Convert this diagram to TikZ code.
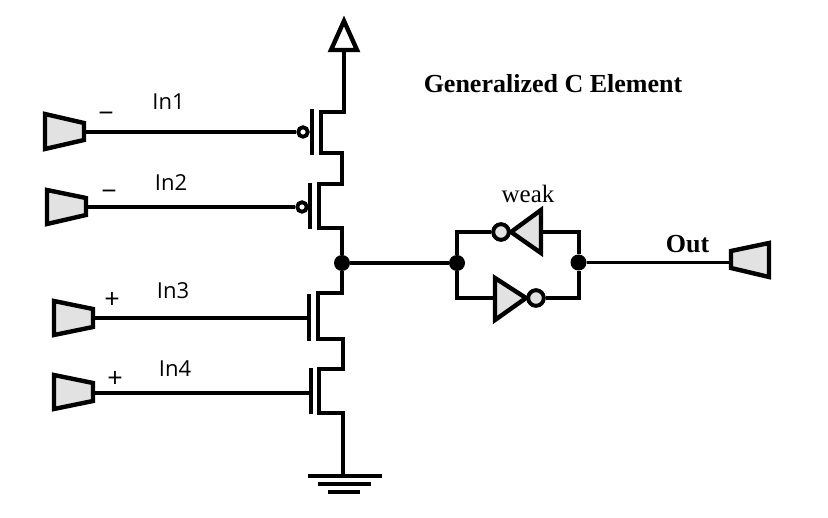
\documentclass[tikz,border=0pt]{standalone}
\usepackage{fontspec}
\setmainfont{Liberation Serif}
\newfontfamily\labelfont{Open Sans}
\usepackage{xcolor}
\definecolor{portfill}{HTML}{E2E2E2}
\tikzset{
  wire/.style={line width=4pt,line cap=butt,line join=miter},
  thinwire/.style={line width=3.2pt},
  port/.style={line width=4.4pt,line join=miter,fill=portfill},
  gatebar/.style={line width=4.6pt},
  junction/.style={circle,fill=black,inner sep=0pt,minimum size=16pt},
  gatebub/.style={circle,draw,line width=3.8pt,fill=white,inner sep=0pt,minimum size=9.5pt},
  invbub/.style={circle,draw,line width=3.8pt,fill=portfill,inner sep=0pt,minimum size=15.5pt},
  inlabel/.style={font=\labelfont\fontsize{22}{22}\selectfont},
  signlabel/.style={font=\labelfont\fontsize{27}{27}\selectfont},
  serifbold/.style={font=\bfseries\fontsize{26}{26}\selectfont},
}
\begin{document}
\begin{tikzpicture}[x=1pt,y=-1pt]
  \useasboundingbox (0,0) rectangle (828,518);

  % input ports
  \draw[port] (45,114) -- (84,123) -- (84,140) -- (45,149) -- cycle;
  \draw[port] (47,190) -- (86,198) -- (86,215) -- (47,224) -- cycle;
  \draw[port] (54,301) -- (93,309) -- (93,327) -- (54,335) -- cycle;
  \draw[port] (54,375) -- (93,383) -- (93,401) -- (54,409) -- cycle;
  \coordinate (in1) at (85,132);
  \coordinate (in2) at (87,207);
  \coordinate (in3) at (94,318);
  \coordinate (in4) at (94,393);

  % gates
  \node[gatebub] (bub1) at (303,132) {};
  \node[gatebub] (bub2) at (302,207) {};
  \coordinate (gate3) at (309,318);
  \coordinate (gate4) at (311,393);
  \draw[wire] (in1) -- (bub1);
  \draw[wire] (in2) -- (bub2);
  \draw[wire] (in3) -- (gate3);
  \draw[wire] (in4) -- (gate4);
  \draw[gatebar] (312,109) -- (312,155);
  \draw[gatebar] (310,183) -- (310,229);
  \draw[gatebar] (309,294) -- (309,341);
  \draw[gatebar] (311,368) -- (311,414);

  % supply
  \coordinate (vdd) at (344,50);
  \draw[port,fill=white] (344,21) -- (357,50) -- (331,50) -- cycle;

  % stack
  \node[junction] (mid) at (342,263) {};
  \coordinate (gnd) at (343,476);
  \draw[wire] (vdd) -- (344,111.8) -- (321,111.8) -- (321,153) -- (342,153) -- (342,184)
    -- (319,184) -- (319,228) -- (342,228) -- (mid);
  \draw[wire] (mid) -- (342,293) -- (318,293) -- (318,339) -- (342.5,339) -- (342.5,369)
    -- (319,369) -- (319,413) -- (343,413) -- (gnd);

  % ground
  \draw[line width=4.4pt] (308,476) -- (382,476);
  \draw[line width=4.4pt] (318,484) -- (371,484);
  \draw[line width=4.4pt] (328,492) -- (360,492);

  % keeper loop
  \node[junction] (left) at (457,263) {};
  \node[junction] (right) at (578.5,262.5) {};
  \coordinate (out) at (731,262.5);
  \node[invbub] (weakbub) at (501,232) {};
  \node[invbub] (fwdbub) at (536,298) {};
  \coordinate (weakin) at (541,232);
  \coordinate (fwdin) at (495,298);
  \draw[thinwire] (mid) -- (left);
  \draw[thinwire] (right) -- (out);
  \draw[wire] (left) -- (457,232) -- (weakbub);
  \draw[wire] (left) -- (457,298) -- (fwdin);
  \draw[wire] (right) -- (578.5,232) -- (weakin);
  \draw[wire] (right) -- (578.5,298) -- (fwdbub);
  \draw[port] (541,210) -- (541,253) -- (511,232) -- cycle;
  \draw[port] (495,278) -- (495,320) -- (526,298) -- cycle;
  \node[invbub] at (weakbub) {};
  \node[invbub] at (fwdbub) {};

  % output port
  \draw[port] (731,251) -- (769,243) -- (769,277) -- (731,268) -- cycle;

  % labels
  \node[inlabel] (lab1) at (168.5,102) {In1};
  \node[inlabel] (lab2) at (171,183) {In2};
  \node[inlabel] (lab3) at (173,291) {In3};
  \node[inlabel] (lab4) at (175,369) {In4};
  \node[signlabel] (sign1) at (106,117) {−};
  \node[signlabel] (sign2) at (109,195) {−};
  \node[signlabel] (sign3) at (112,300) {+};
  \node[signlabel] (sign4) at (115,379) {+};
  \node[serifbold] (title) at (553,84) {Generalized C Element};
  \node[font=\fontsize{25}{25}\selectfont] (weak) at (528,194) {weak};
  \node[serifbold] (outlab) at (687.5,244) {Out};
\end{tikzpicture}
\end{document}
